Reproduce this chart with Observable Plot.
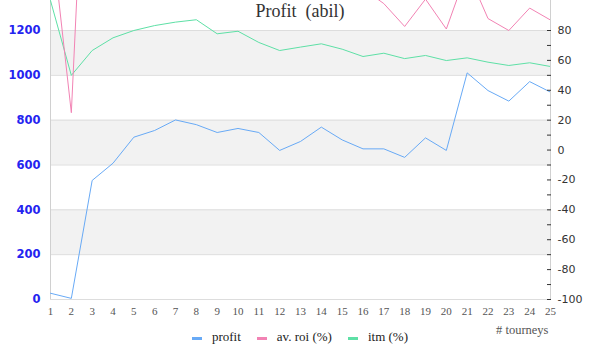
<!DOCTYPE html>
<html>
<head>
<meta charset="utf-8">
<script src="https://cdn.jsdelivr.net/npm/d3@7"></script>
<script src="https://cdn.jsdelivr.net/npm/@observablehq/plot@0.6"></script>
<style>
  body { margin: 0; background: white; }
  #wrap { position: relative; width: 600px; height: 360px; overflow: hidden; }
  #title { position: absolute; top: 1px; left: 0; width: 600px; text-align: center; font-family: "Liberation Serif", serif; font-size: 18px; color: #333; white-space: pre; }
  #legend { position: absolute; top: 329px; left: 0; width: 600px; text-align: center; font-family: "Liberation Serif", serif; font-size: 13px; color: #222; white-space: nowrap; }
  #legend span.item { margin: 0 8px; font-family: "Liberation Serif", serif; }
  #legend span.sw { display: inline-block; width: 10px; height: 3px; vertical-align: middle; margin-right: 10px; }
</style>
</head>
<body>
<div id="wrap">
  <div id="chart"></div>
  <div id="title">Profit  (abil)</div>
  <div id="legend"></div>
</div>
<script>
const title = "Profit  (abil)";
const tourneys = [1,2,3,4,5,6,7,8,9,10,11,12,13,14,15,16,17,18,19,20,21,22,23,24,25];
const profit = [28,5,531,608,724,754,801,780,745,763,745,665,705,769,712,672,672,634,721,665,1011,932,885,972,925];
const avRoi = [150,25,320,250,230,200,190,170,150,145,135,115,115,120,110,108,98,82.7,101,81,120,88,80,95,87];
const itm = [100,50,66.6,75.1,80,83.3,85.6,87.2,77.8,79.5,72,66.6,68.9,71.1,67.5,62.6,64.8,61.2,63.3,59.9,61.7,58.8,56.6,58.4,55.9];
const leftTicks = [0,200,400,600,800,1000,1200];
const bands = [[200,400],[600,800],[1000,1200]];
const rightTicks = [-100,-90,-80,-70,-60,-50,-40,-30,-20,-10,0,10,20,30,40,50,60,70,80];
const seriesNames = ["profit", "av. roi (%)", "itm (%)"];
const colors = ["#68aaf6", "#f283b4", "#5ee0a6"];
const xLabel = "# tourneys";

// right axis (-100..80) mapped onto the left scale (0..1200)
const toLeft = v => (v + 100) * 1200 / 180;
const fromLeft = l => Math.round(l * 180 / 1200 - 100);

const rows = tourneys.map((t, i) => ({t, profit: profit[i], roi: toLeft(avRoi[i]), itm: toLeft(itm[i])}));

const chart = Plot.plot({
  width: 600,
  height: 360,
  marginLeft: 50,
  marginRight: 50,
  marginTop: 0,
  marginBottom: 61,
  style: {background: "transparent"},
  x: {domain: [1, 25], axis: null},
  y: {domain: [0, 1200], range: [299, 30], axis: null},
  marks: [
    Plot.rect(bands, {x1: 1, x2: 25, y1: d => d[0], y2: d => d[1], fill: "#f2f2f2"}),
    Plot.ruleY(leftTicks, {stroke: "#dddddd", strokeWidth: 1}),
    Plot.ruleX([1], {stroke: "#d0d0d0"}),
    Plot.ruleX([25], {stroke: "#d0d0d0"}),
    Plot.line(rows, {x: "t", y: "itm", stroke: colors[2], strokeWidth: 1, clip: "frame"}),
    Plot.line(rows, {x: "t", y: "roi", stroke: colors[1], strokeWidth: 1, clip: "frame"}),
    Plot.line(rows, {x: "t", y: "profit", stroke: colors[0], strokeWidth: 1, clip: "frame"}),
    Plot.axisY(leftTicks, {anchor: "left", tickSize: 0, tickPadding: 10, fill: "#2424f0", fontSize: 11.5, fontFamily: "DejaVu Sans", fontWeight: "bold", label: null, tickFormat: d => String(d)}),
    Plot.axisY(rightTicks.map(toLeft), {anchor: "right", tickSize: -4, tickPadding: 11, stroke: "#333", fill: "#333", fontSize: 11, fontFamily: "DejaVu Sans", label: null,
      tickFormat: d => { const v = fromLeft(d); return v % 20 === 0 ? String(v) : ""; }}),
    Plot.axisX(tourneys, {anchor: "bottom", tickSize: 0, tickPadding: 8, fill: "#555", fontSize: 11, fontFamily: "Liberation Serif", label: null}),
    Plot.text([xLabel], {frameAnchor: "bottom-right", dy: 34, dx: -2, textAnchor: "end", fill: "#555", fontSize: 12.5, fontFamily: "Liberation Serif"})
  ]
});
document.getElementById("chart").appendChild(chart);

const legend = document.getElementById("legend");
seriesNames.forEach((name, i) => {
  const item = document.createElement("span");
  item.className = "item";
  const sw = document.createElement("span");
  sw.className = "sw";
  sw.style.background = colors[i];
  item.appendChild(sw);
  item.appendChild(document.createTextNode(name));
  legend.appendChild(item);
});
</script>
</body>
</html>
